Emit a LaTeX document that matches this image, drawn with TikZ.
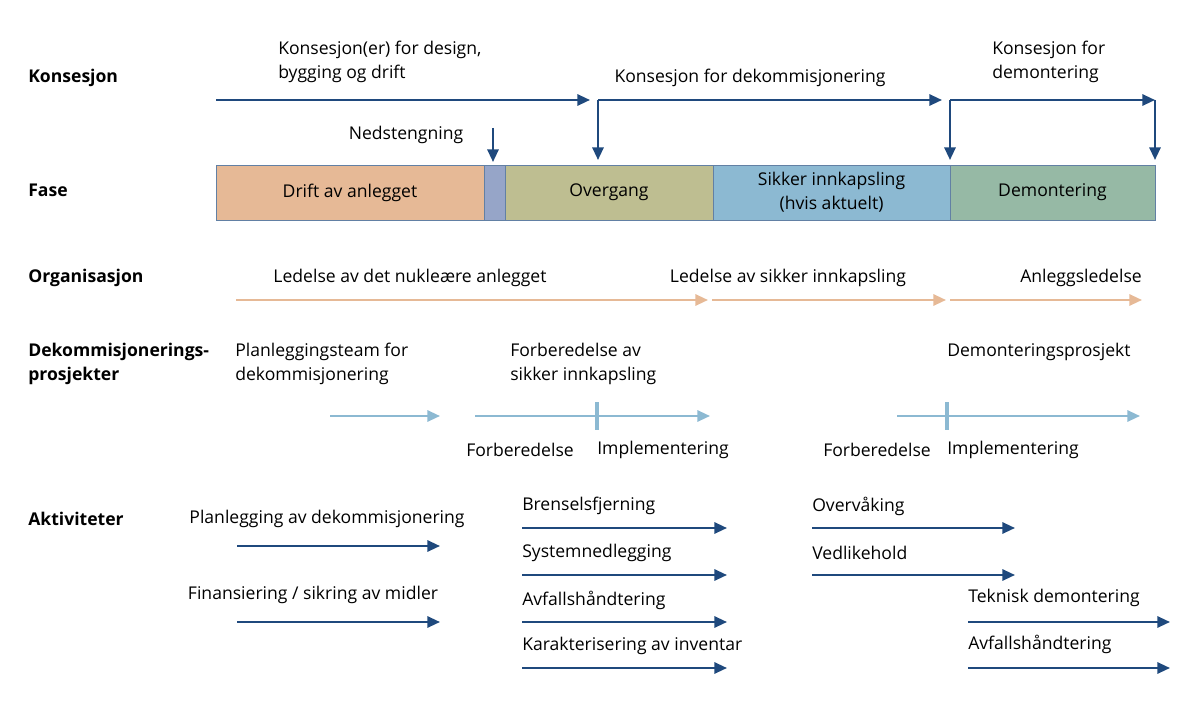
\documentclass[tikz,border=0pt]{standalone}
\usepackage{fontspec}
\setmainfont{Open Sans}
\usetikzlibrary{arrows.meta,positioning,calc}
\definecolor{dblue}{RGB}{31,73,125}
\definecolor{tan}{RGB}{230,185,150}
\definecolor{lblue}{RGB}{140,185,210}
\definecolor{shut}{RGB}{150,165,200}
\definecolor{olive}{RGB}{190,190,145}
\definecolor{sage}{RGB}{150,185,165}
\tikzset{
  txt/.style={inner sep=0pt,font=\fontsize{12.5}{17}\selectfont,align=left},
  row/.style={txt,anchor=west,font=\fontsize{12.5}{17}\selectfont\bfseries},
  kon/.style={draw=dblue,line width=1.6pt,-{Triangle[length=9pt,width=8pt]}},
  org/.style={draw=tan,line width=1.6pt,-{Triangle[length=9pt,width=8pt]}},
  dek/.style={draw=lblue,line width=1.6pt,-{Triangle[length=9pt,width=8pt]}},
  fase/.style={draw=dblue!70,line width=0.5pt,txt,align=center}
}
\begin{document}
\begin{tikzpicture}[x=0.025cm,y=-0.025cm]
\useasboundingbox (0,0) rectangle (1198,709);
% row labels
\node[row] at (28,78) {Konsesjon};
\node[row] at (28,190) {Fase};
\node[row] at (28,278) {Organisasjon};
\node[row] at (28,364) {Dekommisjonerings-\\prosjekter};
\node[row] at (28,519) {Aktiviteter};
% konsesjon
\coordinate (k0) at (216,100);
\coordinate (k1) at (590,100);
\coordinate (k2) at (598,100);
\coordinate (k3) at (942,100);
\coordinate (k4) at (950,100);
\coordinate (k5) at (1155,100);
\draw[kon] (k0) -- (k1);
\draw[kon] (k2|-0,160) ++(0,-60) -- ++(0,60);
\draw[kon] (k2) ++(0,0) -- (k3);
\draw[kon] (k4) -- ++(0,60);
\draw[kon] (k4) -- (k5);
\draw[kon] (k5) -- ++(0,60);
\coordinate (ned) at (493,128);
\draw[kon] (ned) -- ++(0,34);
\node[txt,anchor=west] at (278,62) {Konsesjon(er) for design,\\bygging og drift};
\node[txt] at (750,78) {Konsesjon for dekommisjonering};
\node[txt,anchor=west] at (992,62) {Konsesjon for\\demontering};
\node[txt] at (406,135) {Nedstengning};
% fase
\draw[fase,fill=tan] (216,165) rectangle (484,220) node[midway] {Drift av anlegget};
\draw[fase,fill=shut] (484,165) rectangle (505,220);
\draw[fase,fill=olive] (505,165) rectangle (713,220) node[midway] {Overgang};
\draw[fase,fill=lblue] (713,165) rectangle (950,220) node[midway] {Sikker innkapsling\\(hvis aktuelt)};
\draw[fase,fill=sage] (950,165) rectangle (1155,220) node[midway] {Demontering};
% organisasjon
\draw[org] (236,300) -- (708,300);
\draw[org] (712,300) -- (946,300);
\draw[org] (950,300) -- (1142,300);
\node[txt] at (410,278) {Ledelse av det nukleære anlegget};
\node[txt] at (788,278) {Ledelse av sikker innkapsling};
\node[txt] at (1081,278) {Anleggsledelse};
% dekommisjoneringsprosjekter
\draw[dek] (330,416) -- (440,416);
\draw[dek] (475,416) -- (710,416);
\draw[dek] (897,416) -- (1140,416);
\draw[lblue,line width=3pt] (597,402) -- (597,430);
\draw[lblue,line width=3pt] (947,402) -- (947,430);
\node[txt,anchor=west] at (235,364) {Planleggingsteam for\\dekommisjonering};
\node[txt,anchor=west] at (510,364) {Forberedelse av\\sikker innkapsling};
\node[txt,anchor=west] at (947,352) {Demonteringsprosjekt};
\node[txt] at (520,450) {Forberedelse};
\node[txt,anchor=west] at (597,450) {Implementering};
\node[txt] at (877,450) {Forberedelse};
\node[txt,anchor=west] at (947,450) {Implementering};
% aktiviteter
\draw[kon] (237,546) -- (440,546);
\draw[kon] (237,622) -- (440,622);
\node[txt] at (327,519) {Planlegging av dekommisjonering};
\node[txt] at (313,595) {Finansiering / sikring av midler};
\foreach \y/\t in {528/Brenselsfjerning,575/Systemnedlegging/-utfasing,622/Avfallshåndtering,668/Karakterisering av inventar}{
  \draw[kon] (522,\y) -- (727,\y);
  \node[txt,anchor=west] at (522,\y-22) {\t};
}
\foreach \y/\t in {528/Overvåking,575/Vedlikehold}{
  \draw[kon] (812,\y) -- (1015,\y);
  \node[txt,anchor=west] at (812,\y-22) {\t};
}
\foreach \y/\t in {622/Teknisk demontering,668/Avfallshåndtering}{
  \draw[kon] (968,\y) -- (1170,\y);
  \node[txt,anchor=west] at (968,\y-24) {\t};
}
\end{tikzpicture}
\end{document}
